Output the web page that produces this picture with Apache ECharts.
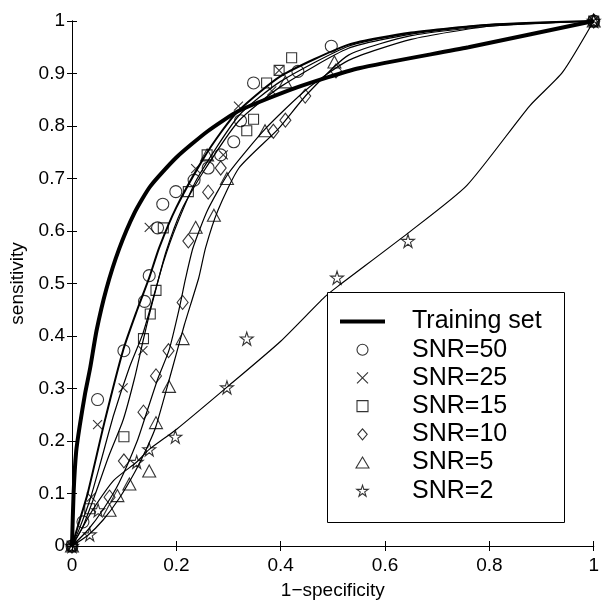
<!DOCTYPE html>
<html>
<head>
<meta charset="utf-8">
<script src="https://cdn.jsdelivr.net/npm/echarts@6/dist/echarts.min.js"></script>
<style>html,body{margin:0;padding:0;background:#fff;}#c{width:602px;height:605px;}</style>
</head>
<body>
<div id="c"></div>
<script>
// ---- Data ----
const seriesNames = ['SNR=50','SNR=25','SNR=15','SNR=10','SNR=5','SNR=2'];

// Training set ROC (thick curve)
const trainX = [0,0.003,0.008,0.015,0.025,0.035,0.047,0.066,0.09,0.12,0.15,0.2,0.26,0.32,0.43,0.55,0.76,1];
const trainY = [0,0.1,0.18,0.23,0.29,0.34,0.41,0.49,0.565,0.635,0.685,0.74,0.79,0.829,0.873,0.91,0.95,1];

// Fitted curves for each SNR
const fit50X = [0,0.012,0.03,0.062,0.098,0.125,0.148,0.167,0.2,0.25,0.287,0.32,0.4,0.53,0.65,0.8,1];
const fit50Y = [0,0.04,0.1,0.235,0.373,0.45,0.511,0.568,0.645,0.735,0.79,0.83,0.895,0.955,0.978,0.993,1];
const fit25X = [0,0.015,0.035,0.055,0.08,0.11,0.136,0.155,0.175,0.2,0.24,0.32,0.4,0.53,0.65,0.8,1];
const fit25Y = [0,0.035,0.09,0.16,0.25,0.34,0.405,0.47,0.54,0.61,0.7,0.82,0.885,0.952,0.977,0.993,1];
const fit15X = [0,0.02,0.045,0.07,0.098,0.12,0.136,0.148,0.161,0.18,0.21,0.25,0.32,0.4,0.53,0.65,0.8,1];
const fit15Y = [0,0.035,0.1,0.17,0.24,0.32,0.39,0.44,0.49,0.56,0.64,0.71,0.81,0.875,0.948,0.975,0.992,1];
const fit10X = [0,0.03,0.06,0.09,0.125,0.145,0.165,0.186,0.205,0.218,0.232,0.26,0.3,0.37,0.45,0.53,0.65,0.8,1];
const fit10Y = [0,0.03,0.07,0.12,0.2,0.26,0.32,0.373,0.45,0.511,0.568,0.64,0.71,0.794,0.87,0.925,0.965,0.99,1];
const fit5X  = [0,0.03,0.06,0.09,0.12,0.145,0.161,0.19,0.215,0.243,0.256,0.28,0.32,0.395,0.45,0.53,0.65,0.8,1];
const fit5Y  = [0,0.02,0.05,0.09,0.14,0.19,0.228,0.33,0.42,0.511,0.568,0.64,0.72,0.794,0.86,0.935,0.972,0.99,1];
const fit2X  = [0,0.02,0.041,0.08,0.124,0.148,0.2,0.3,0.4,0.484,0.51,0.644,0.757,0.877,0.94,1];
const fit2Y  = [0,0.035,0.071,0.125,0.16,0.184,0.222,0.305,0.39,0.474,0.495,0.596,0.687,0.838,0.902,1];

// Measured points for each SNR
const pts50X = [0,0.021,0.049,0.0995,0.139,0.148,0.164,0.174,0.199,0.234,0.261,0.285,0.31,0.323,0.348,0.433,0.497,1];
const pts50Y = [0,0.046,0.279,0.372,0.466,0.515,0.606,0.651,0.675,0.697,0.72,0.745,0.77,0.81,0.882,0.904,0.952,1];
const pts25X = [0,0.037,0.049,0.098,0.136,0.148,0.237,0.29,0.319,0.383,0.397,1];
const pts25Y = [0,0.093,0.231,0.301,0.372,0.607,0.719,0.745,0.838,0.867,0.906,1];
const pts15X = [0,0.034,0.0995,0.137,0.15,0.161,0.175,0.223,0.259,0.335,0.348,0.373,0.397,0.421,1];
const pts15Y = [0,0.071,0.208,0.395,0.442,0.487,0.606,0.675,0.745,0.791,0.813,0.882,0.906,0.93,1];
const pts10X = [0,0.072,0.0995,0.137,0.161,0.185,0.212,0.223,0.261,0.285,0.386,0.409,0.447,0.506,1];
const pts10Y = [0,0.093,0.162,0.255,0.324,0.372,0.464,0.581,0.674,0.72,0.79,0.811,0.857,0.905,1];
const pts5X  = [0,0.072,0.087,0.11,0.148,0.161,0.186,0.212,0.237,0.272,0.297,0.259,0.37,0.409,0.503,1];
const pts5Y  = [0,0.068,0.096,0.118,0.143,0.235,0.304,0.395,0.607,0.63,0.7,0.745,0.791,0.884,0.922,1];
const pts2X  = [0,0.034,0.05,0.124,0.148,0.198,0.297,0.335,0.508,0.644,1];
const pts2Y  = [0,0.022,0.068,0.16,0.184,0.208,0.302,0.395,0.511,0.581,1];

// ---- Build chart ----
const zip = (xs, ys) => xs.map((x, i) => [x, ys[i]]);
const fits = [[fit50X,fit50Y],[fit25X,fit25Y],[fit15X,fit15Y],[fit10X,fit10Y],[fit5X,fit5Y],[fit2X,fit2Y]];
const pts  = [[pts50X,pts50Y],[pts25X,pts25Y],[pts15X,pts15Y],[pts10X,pts10Y],[pts5X,pts5Y],[pts2X,pts2Y]];
const STAR = 'path://M50,2L61,36L97,36L68,57L79,92L50,70L21,92L32,57L3,36L39,36Z';
const CROSS = 'path://M0,0L10,10M10,0L0,10';
const RECT = 'path://M0,0L10,0L10,10L0,10Z';
const DIAMOND = 'path://M6,0L12,7L6,14L0,7Z';
const TRI = 'path://M6.5,0L13,11L0,11Z';
const LINEICON = 'path://M0,0L100,0L100,9L0,9Z';
const symbols = ['circle', CROSS, 'rect', 'diamond', 'triangle', STAR];
const legendIcons = ['circle', CROSS, RECT, DIAMOND, TRI, STAR];
const sizes = [12, 9, 10, [11,14], [13,12], 13];
const fitWidths = [2, 1.2, 1.2, 1.2, 1.2, 1.2];
const FONT = '"Liberation Sans", Arial, Helvetica, sans-serif';

const series = [];
fits.forEach((f, i) => {
  series.push({
    name: 'fit' + i, type: 'line', data: zip(f[0], f[1]), showSymbol: false, symbol: 'none',
    smooth: 0.2,
    lineStyle: { color: '#000', width: fitWidths[i] }, z: 2, silent: true
  });
});
series.push({
  name: 'Training set', type: 'line', data: zip(trainX, trainY), showSymbol: false, symbol: 'none',
  smooth: 0.2,
  lineStyle: { color: '#000', width: 4 }, itemStyle: { color: '#000' }, z: 3
});
pts.forEach((p, i) => {
  series.push({
    name: seriesNames[i], type: 'scatter', data: zip(p[0], p[1]),
    symbol: symbols[i], symbolSize: sizes[i],
    itemStyle: { color: 'rgba(0,0,0,0)', borderColor: '#000', borderWidth: 1.1 }, z: 4
  });
});

const legendData = [{ name: 'Training set', icon: LINEICON, itemStyle: { color: '#000', borderWidth: 0 } }]
  .concat(seriesNames.map((n, i) => ({ name: n, icon: legendIcons[i] })));

const axisCommon = {
  min: 0, max: 1,
  axisLine: { show: true, lineStyle: { color: '#000', width: 1 } },
  axisTick: { show: true, inside: true, length: 5, lineStyle: { color: '#000' } },
  splitLine: { show: false },
};

const chart = echarts.init(document.getElementById('c'), null, { renderer: 'canvas' });
chart.setOption({
  animation: false,
  backgroundColor: '#fff',
  grid: { left: 72, right: 4, top: 21, bottom: 54 },
  xAxis: [
    Object.assign({}, axisCommon, {
      type: 'value', position: 'bottom', interval: 0.2,
      axisLabel: { color: '#000', fontSize: 19, fontFamily: FONT, margin: 10 },
      name: '1\u2212specificity', nameLocation: 'middle', nameGap: 35,
      nameTextStyle: { color: '#000', fontSize: 19, fontFamily: FONT }
    }),
    Object.assign({}, axisCommon, {
      type: 'value', position: 'top', interval: 0.2, axisLabel: { show: false }
    })
  ],
  yAxis: [
    Object.assign({}, axisCommon, {
      type: 'value', position: 'left', interval: 0.1,
      axisLabel: { color: '#000', fontSize: 19, fontFamily: FONT, margin: 7 },
      name: 'sensitivity', nameLocation: 'middle', nameGap: 40,
      nameTextStyle: { color: '#000', fontSize: 19, fontFamily: FONT }
    }),
    Object.assign({}, axisCommon, {
      type: 'value', position: 'right', interval: 0.1, axisLabel: { show: false }
    })
  ],
  graphic: [{
    type: 'rect', left: 327, top: 292, z: 50,
    shape: { width: 237, height: 230 },
    style: { fill: '#fff', stroke: '#000', lineWidth: 1 }
  }],
  legend: {
    data: legendData,
    orient: 'vertical', left: 340, top: 309, z: 60,
    padding: 0,
    itemWidth: 45, itemHeight: 11, itemGap: 3.2,
    selectedMode: false,
    itemStyle: { borderColor: '#000', borderWidth: 1.1 },
    textStyle: { color: '#000', fontSize: 25, fontFamily: FONT, lineHeight: 22, padding: [0, 0, 0, 22] }
  },
  series: series
});
</script>
</body>
</html>
